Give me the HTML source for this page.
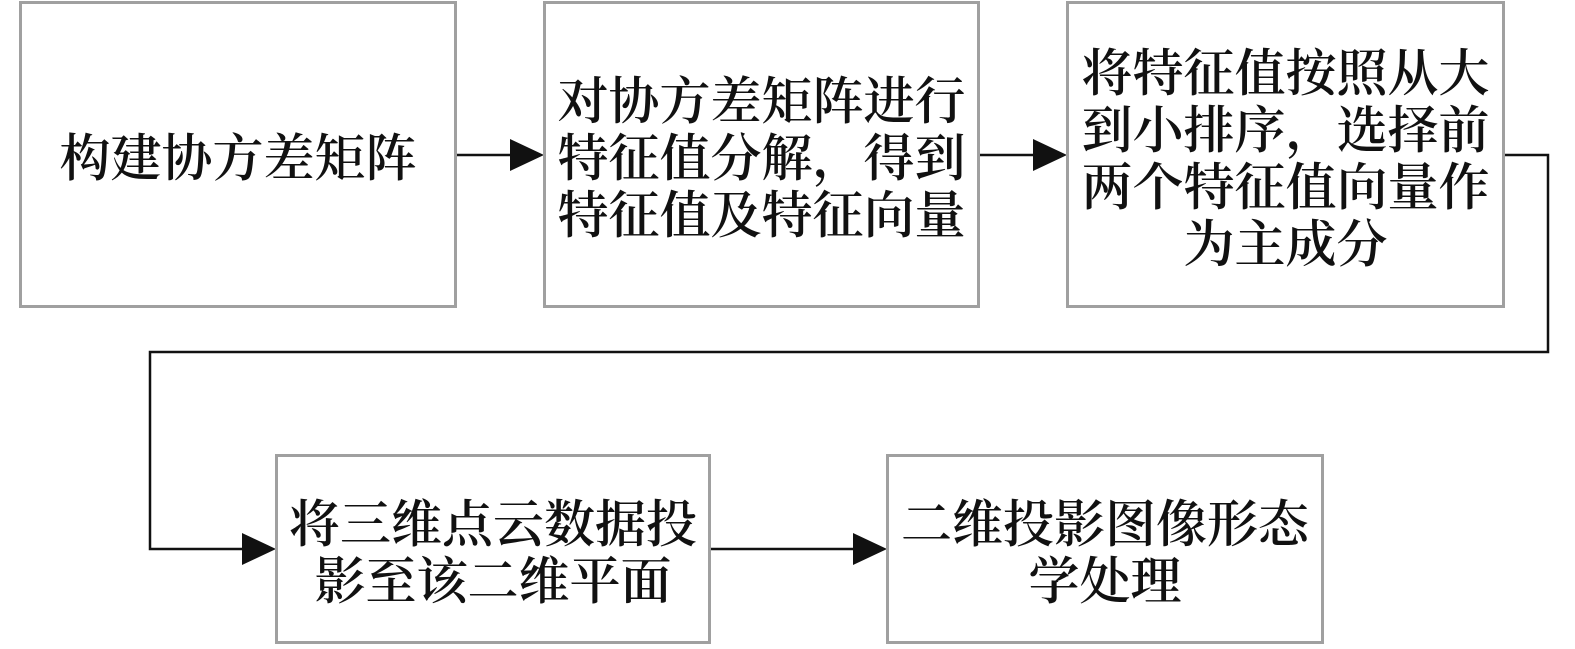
<!DOCTYPE html>
<html><head><meta charset="utf-8"><style>
body{margin:0;width:1575px;height:649px;background:#fff;position:relative;overflow:hidden}
.b{position:absolute;box-sizing:border-box;border:3px solid #a0a0a0;display:flex;align-items:center;justify-content:center;text-align:center;font-family:"Noto Serif CJK SC","Liberation Serif",serif;font-weight:600;font-size:51px;line-height:57px;color:#111}
svg{position:absolute;left:0;top:0}
</style></head><body>
<svg width="1575" height="649">
<g stroke="#111" stroke-width="2.5" fill="none">
<line x1="456" y1="155" x2="512" y2="155"/>
<line x1="979" y1="155" x2="1035" y2="155"/>
<polyline points="1504,155 1548,155 1548,352 150,352 150,549 244,549"/>
<line x1="710" y1="549" x2="855" y2="549"/>
</g>
<g fill="#111">
<polygon points="510,139 544,155 510,171"/>
<polygon points="1033,139 1067,155 1033,171"/>
<polygon points="242,533 276,549 242,565"/>
<polygon points="853,533 887,549 853,565"/>
</g>
</svg>
<div class="b" style="left:19px;top:1px;width:438px;height:307px">构建协方差矩阵</div>
<div class="b" style="left:543px;top:1px;width:437px;height:307px">对协方差矩阵进行<br>特征值分解，得到<br>特征值及特征向量</div>
<div class="b" style="left:1066px;top:1px;width:439px;height:307px">将特征值按照从大<br>到小排序，选择前<br>两个特征值向量作<br>为主成分</div>
<div class="b" style="left:275px;top:454px;width:436px;height:190px">将三维点云数据投<br>影至该二维平面</div>
<div class="b" style="left:886px;top:454px;width:438px;height:190px">二维投影图像形态<br>学处理</div>
</body></html>
